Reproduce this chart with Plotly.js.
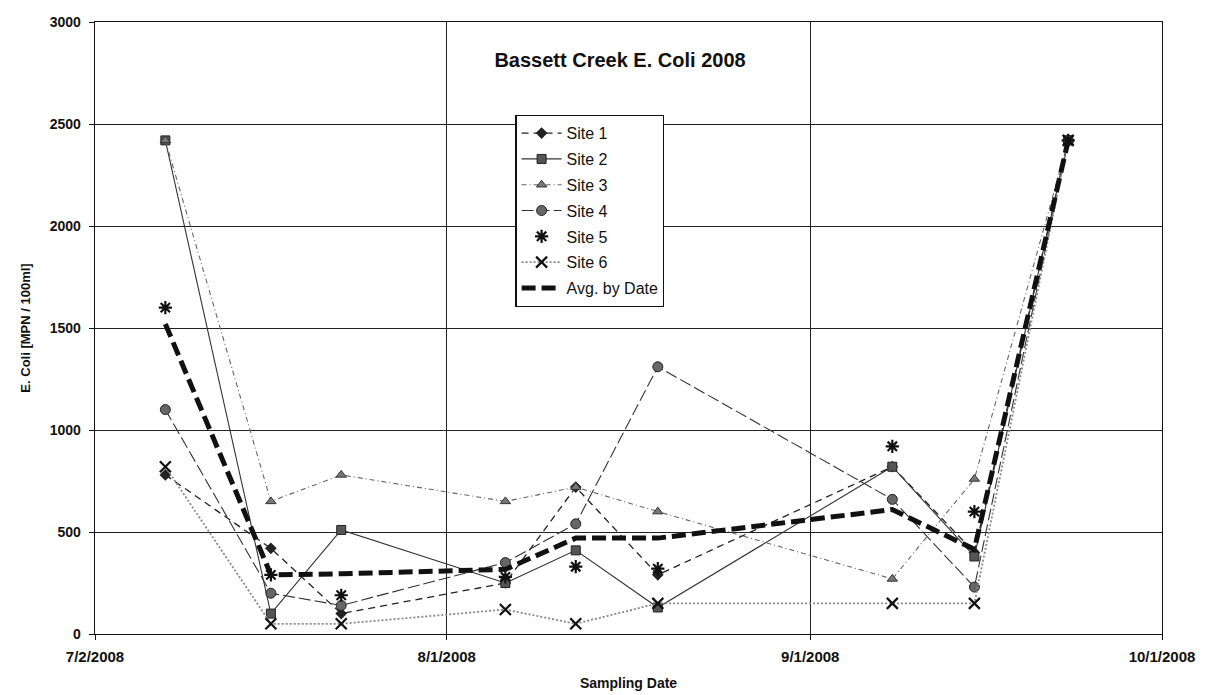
<!DOCTYPE html>
<html>
<head>
<meta charset="utf-8">
<script src="https://cdn.plot.ly/plotly-3.0.1.min.js"></script>
<style>html,body{margin:0;padding:0;background:#fff;}#chart{width:1211px;height:695px;}</style>
</head>
<body>
<div id="chart"></div>
<script>
const dates = ['2008-07-08','2008-07-17','2008-07-23','2008-08-06','2008-08-12','2008-08-19','2008-09-08','2008-09-15','2008-09-23'];
const site1 = [780, 420, 100, 250, 720, 290, 820, 400, 2419.6];
const site2 = [2419.6, 100, 510, 250, 410, 130, 820, 380, 2419.6];
const site3 = [2419.6, 650, 780, 650, 720, 600, 270, 760, 2419.6];
const site4 = [1100, 200, 140, 350, 540, 1310, 660, 230, 2419.6];
const site5 = [1600, 290, 190, 280, 330, 320, 920, 600, 2419.6];
const site6 = [820, 50, 50, 120, 50, 150, 150, 150, 2419.6];
const avgByDate = [1520, 290, 295, 317, 470, 470, 610, 415, 2419.6];
const xTickVals = ['2008-07-02','2008-08-01','2008-09-01','2008-10-01'];
const xTickText = ['7/2/2008','8/1/2008','9/1/2008','10/1/2008'];
const yTickVals = [0,500,1000,1500,2000,2500,3000];

const FONT = 'Liberation Sans, Arial, sans-serif';
const traces = [
  {name:'Site 1', legendgroup:'g1', x:dates, y:site1, mode:'lines+markers',
   line:{color:'#222', width:1.3, dash:'7px,5px'}, marker:{symbol:'diamond', size:9, color:'#222'}},
  {name:'Site 2', legendgroup:'g2', x:dates, y:site2, mode:'lines+markers',
   line:{color:'#333', width:1.1}, marker:{symbol:'square', size:9, color:'#555', line:{color:'#222', width:1}}},
  {name:'Site 3', legendgroup:'g3', x:dates, y:site3, mode:'lines+markers',
   line:{color:'#666', width:1.1, dash:'5px,3px,1px,3px'}, marker:{symbol:'triangle-up', size:9, color:'#777', line:{color:'#333', width:1}}},
  {name:'Site 4', legendgroup:'g4', x:dates, y:site4, mode:'lines+markers',
   line:{color:'#333', width:1.1, dash:'12px,4px'}, marker:{symbol:'circle', size:10, color:'#666', line:{color:'#222', width:1}}},
  {name:'Site 5', legendgroup:'g5', x:dates, y:site5, mode:'markers',
   marker:{symbol:'asterisk-open', size:11, color:'#111', line:{color:'#111', width:2.2}}},
  {name:'Site 6', legendgroup:'g6', x:dates, y:site6, mode:'lines+markers',
   line:{color:'#888', width:1.8, dash:'2px,2px'}, marker:{symbol:'x-thin-open', size:11, color:'#111', line:{color:'#111', width:2.2}}},
  {name:'Avg. by Date', legendgroup:'g7', x:dates, y:avgByDate, mode:'lines',
   line:{color:'#111', width:5, dash:'14px,6px'}}
];

const layout = {
  width:1211, height:695,
  margin:{l:95, r:49, t:22, b:61},
  paper_bgcolor:'#fff', plot_bgcolor:'#fff',
  font:{family:FONT, color:'#111', size:13},
  title:{text:'Bassett Creek E. Coli 2008', x:0.512, xanchor:'center', y:0.914, yanchor:'middle',
         font:{family:FONT, size:20, weight:'bold', color:'#111'}},
  showlegend:true,
  legend:{x:0.394, xanchor:'left', y:0.848, yanchor:'top', bgcolor:'#fff', bordercolor:'#111', borderwidth:1.2,
          font:{family:FONT, size:16, color:'#111'}, tracegroupgap:2, itemwidth:40},
  xaxis:{type:'date', range:['2008-07-02','2008-10-01'], tickmode:'array', tickvals:xTickVals, ticktext:xTickText,
         showgrid:true, gridcolor:'#222', gridwidth:1, zeroline:false,
         showline:true, linecolor:'#111', linewidth:1.3, mirror:true,
         ticks:'outside', ticklen:5, tickcolor:'#111', ticklabelstandoff:4,
         tickfont:{family:FONT, size:15, weight:'bold', color:'#111'},
         title:{text:'Sampling Date', standoff:14, font:{family:FONT, size:14, weight:'bold', color:'#111'}}},
  yaxis:{range:[0,3000], tickmode:'array', tickvals:yTickVals,
         showgrid:true, gridcolor:'#222', gridwidth:1, zeroline:false,
         showline:true, linecolor:'#111', linewidth:1.3, mirror:true,
         ticks:'outside', ticklen:5, tickcolor:'#111', ticklabelstandoff:5,
         tickfont:{family:FONT, size:14, weight:'bold', color:'#111'},
         title:{text:'E. Coli [MPN / 100ml]', standoff:16, font:{family:FONT, size:13, weight:'bold', color:'#111'}}}
};

Plotly.newPlot('chart', traces, layout, {displayModeBar:false, staticPlot:true});
</script>
</body>
</html>
